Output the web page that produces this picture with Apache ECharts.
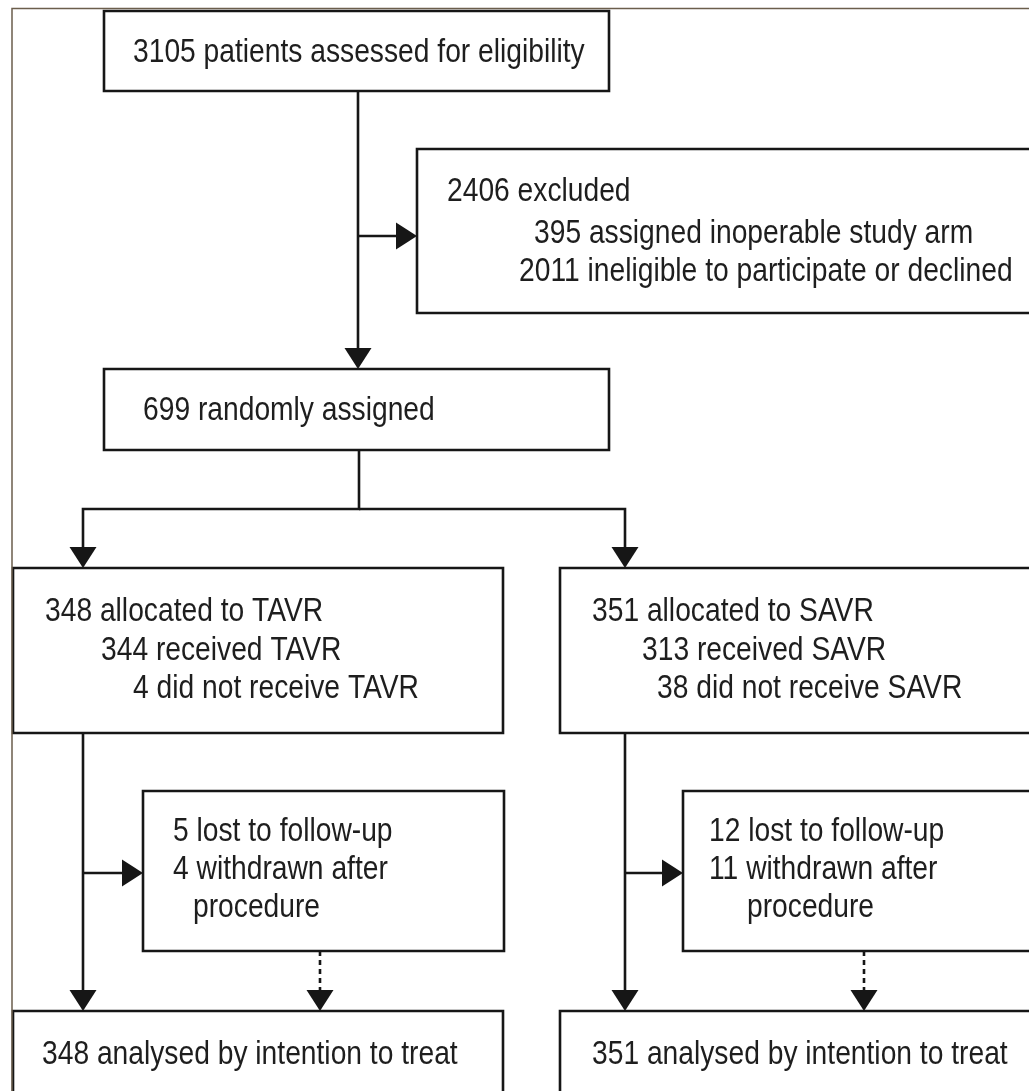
<!DOCTYPE html>
<html><head><meta charset="utf-8">
<script src="https://cdn.jsdelivr.net/npm/echarts@6/dist/echarts.min.js"></script>
<style>html,body{margin:0;padding:0;background:#fff}#c{width:1029px;height:1091px}</style>
</head><body><div id="c"></div>
<script>
// ---------------- data (counts) ----------------
const assessed = 3105;
const excludedCounts = [2406, 395, 2011];
const excludedLabels = ['excluded', 'assigned inoperable study arm', 'ineligible to participate or declined'];
const randomised = 699;
const armNames = ['TAVR', 'SAVR'];
const allocated = [348, 351];
const received = [344, 313];
const notReceived = [4, 38];
const lostToFollowUp = [5, 12];
const withdrawn = [4, 11];
const analysed = [348, 351];

// ---------------- layout (diagram units on hidden value axes) ----------------
const W = 1029, H = 1091;
const boxes = [
  [104, 11, 609, 91],
  [417, 149, 1040, 313],
  [104, 369, 609, 450],
  [13, 568, 503, 733],
  [560, 568, 1040, 733],
  [143, 791, 504, 951],
  [683, 791, 1040, 951],
  [13, 1011, 503, 1100],
  [560, 1011, 1040, 1100]
];
const connectors = [
  {pts: [[358, 91], [358, 369]], arrow: true},
  {pts: [[358, 236], [417, 236]], arrow: true},
  {pts: [[359, 450], [359, 509], [83, 509], [83, 568]], arrow: true},
  {pts: [[359, 509], [625, 509], [625, 568]], arrow: true},
  {pts: [[83, 733], [83, 1011]], arrow: true},
  {pts: [[83, 873], [143, 873]], arrow: true},
  {pts: [[320, 951], [320, 1011]], arrow: true, dashed: true},
  {pts: [[625, 733], [625, 1011]], arrow: true},
  {pts: [[625, 873], [683, 873]], arrow: true},
  {pts: [[864, 951], [864, 1011]], arrow: true, dashed: true},
  {pts: [[12, 1100], [12, 8.5], [1040, 8.5]], arrow: false, frame: true}
];
// text lines: [x of line start, baseline]
const textPos = [
  [133, 64],
  [447, 203], [534, 245], [519, 283],
  [143, 422],
  [45, 623], [101, 662], [133, 700],
  [592, 623], [642, 662], [657, 700],
  [173, 843], [173, 881], [193, 919],
  [709, 843], [709, 881], [747, 919],
  [42, 1066], [592, 1066]
];
const texts = [
  assessed + ' patients assessed for eligibility',
  excludedCounts[0] + ' ' + excludedLabels[0],
  excludedCounts[1] + ' ' + excludedLabels[1],
  excludedCounts[2] + ' ' + excludedLabels[2],
  randomised + ' randomly assigned',
  allocated[0] + ' allocated to ' + armNames[0],
  received[0] + ' received ' + armNames[0],
  notReceived[0] + ' did not receive ' + armNames[0],
  allocated[1] + ' allocated to ' + armNames[1],
  received[1] + ' received ' + armNames[1],
  notReceived[1] + ' did not receive ' + armNames[1],
  lostToFollowUp[0] + ' lost to follow-up',
  withdrawn[0] + ' withdrawn after',
  'procedure',
  lostToFollowUp[1] + ' lost to follow-up',
  withdrawn[1] + ' withdrawn after',
  'procedure',
  analysed[0] + ' analysed by intention to treat',
  analysed[1] + ' analysed by intention to treat'
];

const FONT_SIZE = 33, SCALE_X = 0.855;
const INK = '#161616';

const chart = echarts.init(document.getElementById('c'), null, {renderer: 'canvas'});
chart.setOption({
  animation: false,
  backgroundColor: '#ffffff',
  grid: {left: 0, right: 0, top: 0, bottom: 0},
  xAxis: {type: 'value', min: 0, max: W, show: false},
  yAxis: {type: 'value', min: 0, max: H, inverse: true, show: false},
  series: [
    {
      type: 'custom', name: 'boxes', clip: false,
      data: boxes,
      encode: {x: [0, 2], y: [1, 3]},
      renderItem: function (params, api) {
        const a = api.coord([api.value(0), api.value(1)]);
        const b = api.coord([api.value(2), api.value(3)]);
        return {type: 'rect', shape: {x: a[0], y: a[1], width: b[0] - a[0], height: b[1] - a[1]},
          style: {fill: '#fff', stroke: INK, lineWidth: 2.6}};
      }
    },
    {
      type: 'custom', name: 'connectors', clip: false,
      data: connectors.map(c => c.pts[0]),
      encode: {x: 0, y: 1},
      renderItem: function (params, api) {
        const c = connectors[params.dataIndex];
        const p = c.pts.map(pt => api.coord(pt));
        const children = [];
        if (c.frame) {
          children.push({type: 'polyline', shape: {points: p}, style: {fill: null, stroke: '#6b5e4c', lineWidth: 1.5}});
          return {type: 'group', children: children};
        }
        const n = p.length;
        const tip = p[n - 1], prev = p[n - 2];
        const dx = tip[0] - prev[0], dy = tip[1] - prev[1];
        const len = Math.sqrt(dx * dx + dy * dy);
        const ux = dx / len, uy = dy / len;
        const aL = 21, aW = 13.5;
        const base = [tip[0] - ux * aL, tip[1] - uy * aL];
        const linePts = p.slice(0, n - 1).concat([base]);
        children.push({type: 'polyline', shape: {points: linePts},
          style: {fill: null, stroke: INK, lineWidth: 2.6, lineDash: c.dashed ? [5, 4] : null}});
        children.push({type: 'polygon', shape: {points: [tip,
          [base[0] - uy * aW, base[1] + ux * aW], [base[0] + uy * aW, base[1] - ux * aW]]},
          style: {fill: INK}});
        return {type: 'group', children: children};
      }
    },
    {
      type: 'custom', name: 'labels', clip: false, z: 5,
      data: textPos,
      encode: {x: 0, y: 1},
      renderItem: function (params, api) {
        const p = api.coord([api.value(0), api.value(1)]);
        return {type: 'text', x: p[0], y: p[1] - FONT_SIZE * 0.33, scaleX: SCALE_X,
          style: {text: texts[params.dataIndex], fontSize: FONT_SIZE, fontFamily: '"Liberation Sans", Arial, sans-serif',
            fill: '#1e1e1e', align: 'left', verticalAlign: 'middle'}};
      }
    }
  ]
});
</script></body></html>
